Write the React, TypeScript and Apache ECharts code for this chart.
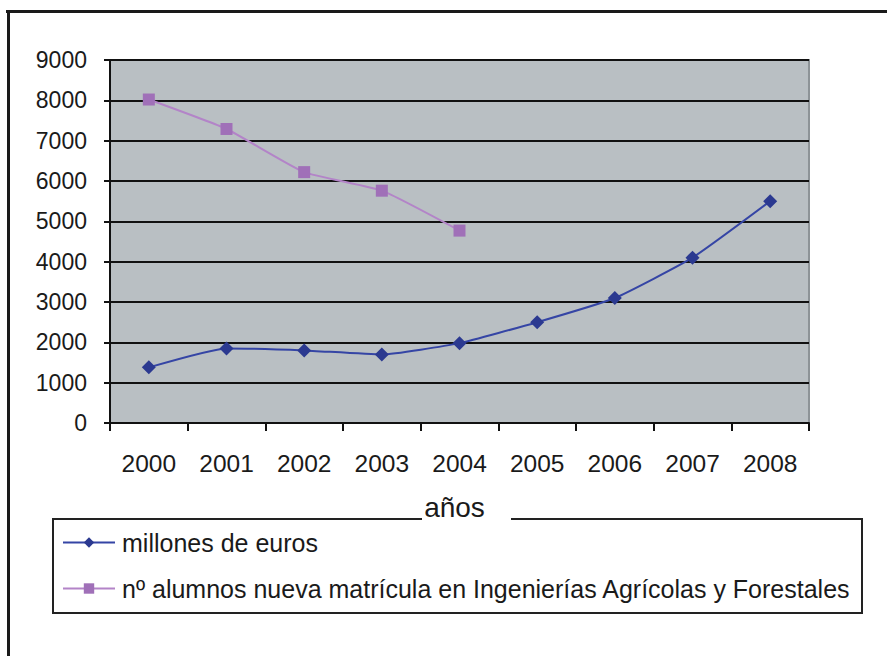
import React, { useEffect, useRef } from "react";
import * as echarts from "echarts";

const years = ["2000", "2001", "2002", "2003", "2004", "2005", "2006", "2007", "2008"];
const millonesEuros = [1380, 1850, 1800, 1700, 1980, 2500, 3100, 4100, 5500];
const alumnos = [8020, 7290, 6220, 5760, 4770, null, null, null, null];
const seriesNames = [
  "millones de euros",
  "nº alumnos nueva matrícula en Ingenierías Agrícolas y Forestales",
];

const FONT = "'Liberation Sans', Arial, sans-serif";

export default function App() {
  const ref = useRef<HTMLDivElement>(null);
  useEffect(() => {
    if (!ref.current) return;
    const chart = echarts.init(ref.current, undefined, { renderer: "svg" });
    chart.setOption({
      animation: false,
      backgroundColor: "#ffffff",
      textStyle: { fontFamily: FONT },
      grid: {
        left: 110,
        right: 78,
        top: 60,
        bottom: 233,
        show: true,
        backgroundColor: "#b9bfc3",
        borderColor: "#8d9397",
        borderWidth: 2,
      },
      xAxis: {
        type: "category",
        data: years,
        boundaryGap: true,
        name: "años",
        nameLocation: "middle",
        nameGap: 70,
        nameTextStyle: {
          fontSize: 28,
          color: "#1a1a1a",
          fontFamily: FONT,
          padding: [0, 10, 0, 0],
        },
        axisLine: { lineStyle: { color: "#111", width: 2 } },
        axisTick: { show: true, length: 8, lineStyle: { color: "#111", width: 2 } },
        axisLabel: { fontSize: 24.5, color: "#1a1a1a", margin: 28, fontFamily: FONT },
        splitLine: { show: false },
      },
      yAxis: {
        type: "value",
        min: 0,
        max: 9000,
        interval: 1000,
        axisLine: { show: true, lineStyle: { color: "#111", width: 2 } },
        axisTick: { show: true, length: 6, lineStyle: { color: "#111", width: 2 } },
        axisLabel: {
          fontSize: 23,
          color: "#1a1a1a",
          margin: 23,
          fontFamily: FONT,
          formatter: (v: number) => String(v),
        },
        splitLine: { show: true, lineStyle: { color: "#111", width: 2 } },
      },
      legend: {
        orient: "vertical",
        left: 57,
        top: 525,
        itemWidth: 52,
        itemHeight: 13,
        itemGap: 21,
        data: seriesNames,
        textStyle: { fontSize: 25, color: "#1a1a1a", fontFamily: FONT, padding: [0, 0, 0, 2] },
      },
      graphic: [
        {
          type: "polyline",
          shape: {
            points: [
              [511, 519],
              [862, 519],
              [862, 613],
              [53, 613],
              [53, 519],
              [422, 519],
            ],
          },
          style: { stroke: "#222", lineWidth: 2, fill: null },
          z: 10,
        },
        {
          type: "line",
          shape: { x1: 6, y1: 11.5, x2: 887, y2: 11.5 },
          style: { stroke: "#1a1a1a", lineWidth: 3 },
        },
        {
          type: "line",
          shape: { x1: 8.5, y1: 10, x2: 8.5, y2: 656 },
          style: { stroke: "#1a1a1a", lineWidth: 3 },
        },
      ],
      series: [
        {
          name: seriesNames[0],
          type: "line",
          data: millonesEuros,
          smooth: 0.15,
          symbol: "diamond",
          symbolSize: 14,
          itemStyle: { color: "#2b3990" },
          lineStyle: { color: "#3545a5", width: 2 },
          z: 5,
        },
        {
          name: seriesNames[1],
          type: "line",
          data: alumnos,
          smooth: 0.15,
          symbol: "rect",
          symbolSize: 12,
          itemStyle: { color: "#a070b8" },
          lineStyle: { color: "#b384c8", width: 2 },
          z: 5,
        },
      ],
    });
    return () => chart.dispose();
  }, []);
  return (
    <div
      ref={ref}
      style={{ position: "fixed", left: 0, top: 0, width: 887, height: 656 }}
    />
  );
}
